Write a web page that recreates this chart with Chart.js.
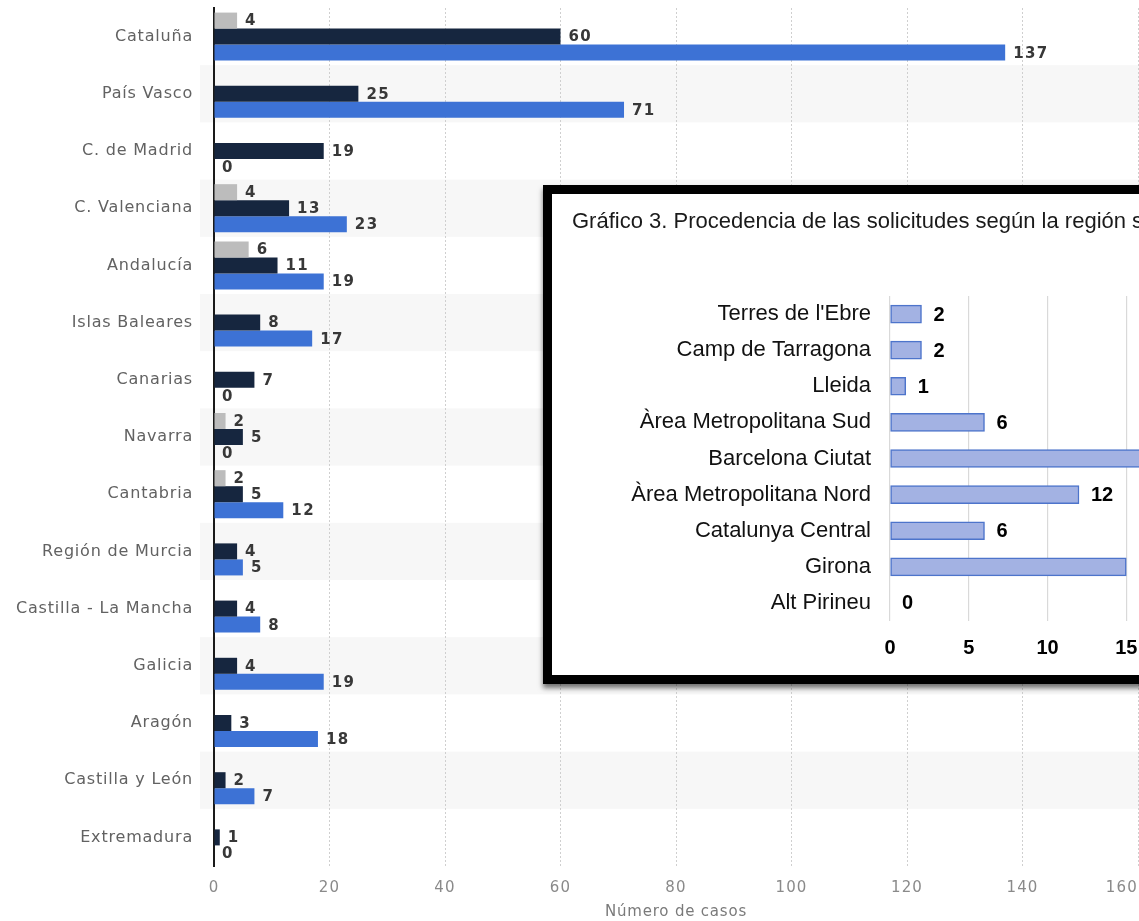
<!DOCTYPE html>
<html lang="es">
<head>
<meta charset="utf-8">
<title>Número de casos por comunidad autónoma</title>
<script src="https://cdn.jsdelivr.net/npm/chart.js@4.4.1/dist/chart.umd.min.js"></script>
<style>
  html, body { margin: 0; padding: 0; background: #fff; overflow: hidden; }
  body { width: 1139px; height: 921px; position: relative; }
  #main { position: absolute; left: 0; top: 0; }
  #insetBox {
    position: absolute; left: 543px; top: 185px;
    width: 900px; height: 481px;
    border: 9px solid #000; background: #fff;
    box-shadow: 0 4px 5px rgba(0,0,0,0.55);
  }
  #inset { position: absolute; left: 0; top: 0; }
</style>
</head>
<body>
<canvas id="main" width="1139" height="921"></canvas>
<div id="insetBox"><canvas id="inset" width="700" height="481"></canvas></div>
<script>
// Comunidades autónomas
const categories = [
  'Cataluña', 'País Vasco', 'C. de Madrid', 'C. Valenciana', 'Andalucía',
  'Islas Baleares', 'Canarias', 'Navarra', 'Cantabria', 'Región de Murcia',
  'Castilla - La Mancha', 'Galicia', 'Aragón', 'Castilla y León', 'Extremadura'
];
const seriesGray = [4, null, null, 4, 6, null, null, 2, 2, null, null, null, null, null, null];
const seriesNavy = [60, 25, 19, 13, 11, 8, 7, 5, 5, 4, 4, 4, 3, 2, 1];
const seriesBlue = [137, 71, 0, 23, 19, 17, 0, 0, 12, 5, 8, 19, 18, 7, 0];
const xTicks = [0, 20, 40, 60, 80, 100, 120, 140, 160];
const xTitle = 'Número de casos';

// Gráfico 3: regiones sanitarias de Cataluña
const insetTitle = 'Gráfico 3. Procedencia de las solicitudes según la región sanitaria';
const insetRegions = [
  "Terres de l'Ebre", 'Camp de Tarragona', 'Lleida', 'Àrea Metropolitana Sud',
  'Barcelona Ciutat', 'Àrea Metropolitana Nord', 'Catalunya Central', 'Girona', 'Alt Pirineu'
];
const insetValues = [2, 2, 1, 6, 16, 12, 6, 15, 0];
const insetTicks = [0, 5, 10, 15, 20];

const MAIN_FONT = 'DejaVu Sans';
const ARIAL = 'Liberation Sans';

// Alternating row bands, painted before axes and grid
const bandPlugin = {
  id: 'bands',
  beforeDraw(chart) {
    const { ctx, chartArea, scales: { y } } = chart;
    const step = (chartArea.bottom - chartArea.top) / categories.length;
    ctx.save();
    ctx.fillStyle = '#f7f7f7';
    categories.forEach((c, i) => {
      if (i % 2 === 1) {
        const cy = y.getPixelForValue(i);
        ctx.fillRect(200, cy - step / 2, chart.width - 200, step);
      }
    });
    ctx.restore();
  }
};

// Letter spacing used by the text on the main chart
const spacingPlugin = {
  id: 'spacing',
  beforeDraw(chart) { chart.ctx.letterSpacing = '0.8px'; }
};

// Value labels at the end of each bar, plus x tick labels
const mainLabels = {
  id: 'mainLabels',
  afterDatasetsDraw(chart) {
    const ctx = chart.ctx;
    ctx.save();
    ctx.letterSpacing = '1.4px';
    ctx.font = 'bold 15px "' + MAIN_FONT + '"';
    ctx.fillStyle = '#383838';
    ctx.textAlign = 'left';
    ctx.textBaseline = 'middle';
    chart.data.datasets.forEach((ds, di) => {
      chart.getDatasetMeta(di).data.forEach((el, i) => {
        const v = ds.data[i];
        if (v === null || v === undefined) return;
        ctx.fillText(String(v), el.x + 8, el.y + 1);
      });
    });
    ctx.restore();
  },
  afterDraw(chart) {
    const ctx = chart.ctx;
    const xs = chart.scales.x;
    ctx.save();
    ctx.letterSpacing = '1.2px';
    ctx.font = '15px "' + MAIN_FONT + '"';
    ctx.fillStyle = '#8a8a8a';
    ctx.textAlign = 'center';
    ctx.textBaseline = 'middle';
    xTicks.forEach(t => {
      const txt = String(t);
      const w = ctx.measureText(txt).width;
      let x = xs.getPixelForValue(t);
      if (x + w / 2 > chart.width - 1) x = chart.width - 1 - w / 2;
      ctx.fillText(txt, x, chart.chartArea.bottom + 22);
    });
    ctx.restore();
  }
};

new Chart(document.getElementById('main'), {
  type: 'bar',
  data: {
    labels: categories,
    datasets: [
      { label: 'gris', data: seriesGray, backgroundColor: '#bcbcbc' },
      { label: 'oscuro', data: seriesNavy, backgroundColor: '#16263f' },
      { label: 'azul', data: seriesBlue, backgroundColor: '#3d72d5' }
    ]
  },
  options: {
    indexAxis: 'y',
    responsive: false,
    animation: false,
    events: [],
    layout: { padding: { top: 8, right: 1, left: 0, bottom: 0 } },
    datasets: { bar: { categoryPercentage: 0.84, barPercentage: 1, grouped: true } },
    plugins: { legend: { display: false }, tooltip: { enabled: false } },
    scales: {
      x: {
        min: 0, max: 160,
        ticks: { display: false, stepSize: 20 },
        afterBuildTicks(scale) { scale.ticks = xTicks.map(v => ({ value: v })); },
        grid: {
          color: c => (c.index === 0 ? 'rgba(0,0,0,0)' : '#cfcfcf'),
          lineWidth: 1,
          drawTicks: false
        },
        border: { display: false, dash: [2, 2] },
        title: {
          display: true, text: xTitle,
          color: '#7a7a7a',
          font: { family: MAIN_FONT, size: 15 },
          padding: { top: 0, bottom: 0 }
        },
        afterFit(scale) { scale.height = 55; }
      },
      y: {
        ticks: {
          color: '#626262',
          font: { family: MAIN_FONT, size: 16 },
          padding: 21
        },
        grid: { display: false, drawTicks: false },
        border: { display: true, color: '#1a1a1a', width: 2 },
        afterFit(scale) {
          scale.width = 214;
          scale.paddingTop = 0;
          scale.paddingBottom = 0;
        }
      }
    }
  },
  plugins: [spacingPlugin, bandPlugin, mainLabels]
});

// Inset chart: title and value labels
const insetText = {
  id: 'insetText',
  afterDraw(chart) {
    const ctx = chart.ctx;
    ctx.save();
    ctx.font = '22px "' + ARIAL + '"';
    ctx.fillStyle = '#1a1a1a';
    ctx.textAlign = 'left';
    ctx.textBaseline = 'middle';
    ctx.fillText(insetTitle, 20, 28);
    ctx.restore();
  },
  afterDatasetsDraw(chart) {
    const ctx = chart.ctx;
    ctx.save();
    ctx.font = 'bold 20px "' + ARIAL + '"';
    ctx.fillStyle = '#000';
    ctx.textAlign = 'left';
    ctx.textBaseline = 'middle';
    const ds = chart.data.datasets[0];
    chart.getDatasetMeta(0).data.forEach((el, i) => {
      ctx.fillText(String(ds.data[i]), el.x + 12, el.y + 1);
    });
    ctx.restore();
  }
};

const insetCtx = document.getElementById('inset').getContext('2d');

new Chart(insetCtx, {
  type: 'bar',
  data: {
    labels: insetRegions,
    datasets: [{
      data: insetValues,
      backgroundColor: '#a3b2e3',
      borderColor: '#4d74cb',
      borderWidth: 1.5,
      borderSkipped: false,
      barThickness: 18
    }]
  },
  options: {
    indexAxis: 'y',
    responsive: false,
    animation: false,
    events: [],
    layout: { padding: { top: 102, right: 47, left: 0, bottom: 0 } },
    plugins: { legend: { display: false }, tooltip: { enabled: false } },
    scales: {
      x: {
        min: 0, max: 20,
        afterBuildTicks(scale) { scale.ticks = insetTicks.map(v => ({ value: v })); },
        ticks: {
          color: '#000',
          font: { family: ARIAL, size: 20, weight: 'bold' },
          padding: 15
        },
        grid: { color: '#d9d9d9', lineWidth: 1.2, drawTicks: false },
        border: { display: false },
        afterFit(scale) { scale.height = 54; }
      },
      y: {
        ticks: {
          color: '#111',
          font: { family: ARIAL, size: 22 },
          padding: 19
        },
        grid: { display: false, drawTicks: false },
        border: { display: false },
        afterFit(scale) {
          scale.width = 338;
          scale.paddingTop = 0;
          scale.paddingBottom = 0;
        }
      }
    }
  },
  plugins: [insetText]
});
</script>
</body>
</html>
